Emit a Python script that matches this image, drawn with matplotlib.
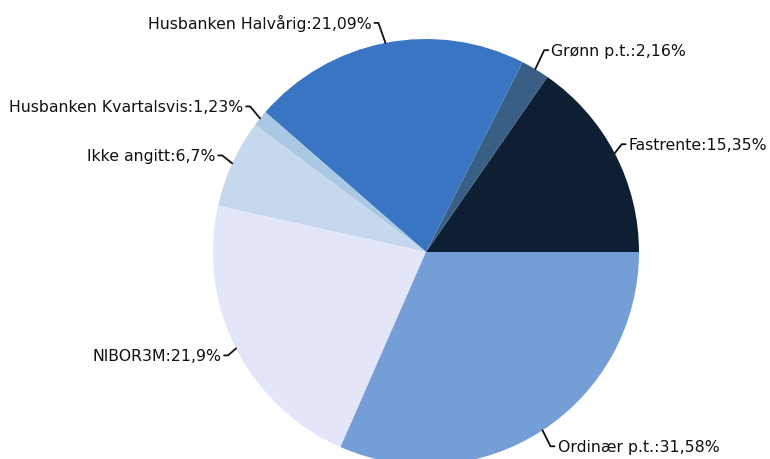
import matplotlib
matplotlib.use("Agg")
import matplotlib.pyplot as plt
import numpy as np

# slice data, counter-clockwise from 3 o'clock
labels = ["Fastrente", "Grønn p.t.", "Husbanken Halvårig", "Husbanken Kvartalsvis",
          "Ikke angitt", "NIBOR3M", "Ordinær p.t."]
shares = [15.35, 2.16, 21.09, 1.23, 6.7, 21.9, 31.58]
share_text = ["15,35", "2,16", "21,09", "1,23", "6,7", "21,9", "31,58"]
colors = ["#0f1f33", "#3a5f85", "#3a75c4", "#a9c8e4", "#c5d8ee", "#e2e6f8", "#759ed6"]

# leader elbow offset from the slice edge, in px (x right, y down)
elbow = [(7, -9), (9, -19), (-7, -20), (-10, -12), (-10, -8), (-8, 7), (8, 16)]

plt.rcParams["font.family"] = ["DejaVu Sans"]

W, H = 770, 459
fig = plt.figure(figsize=(W / 100, H / 100), dpi=100)
ax = fig.add_axes([0, 0, 1, 1])

cx, cy, R = 426, H - 252, 213
wedges, _ = ax.pie(shares, colors=colors, startangle=0, counterclock=True,
                   center=(cx, cy), radius=R, frame=True,
                   wedgeprops=dict(linewidth=0))
ax.set_xlim(0, W)
ax.set_ylim(0, H)
ax.set_aspect("equal")
ax.axis("off")

# leader lines + labels
for w, lab, txt, (ex, ey) in zip(wedges, labels, share_text, elbow):
    mid = np.deg2rad((w.theta1 + w.theta2) / 2)
    x0, y0 = cx + R * np.cos(mid), cy + R * np.sin(mid)
    x1, y1 = x0 + ex, y0 - ey
    side = 1 if ex >= 0 else -1
    x2 = x1 + 4 * side
    ax.plot([x0, x1, x2], [y0, y1, y1], color="#111111", lw=1.3,
            solid_capstyle="round", solid_joinstyle="round", clip_on=False)
    ax.text(x2 + 3 * side, y1 - 1, f"{lab}:{txt}%", fontsize=11.3,
            ha="left" if side > 0 else "right", va="center", color="#111111")

fig.savefig("out.png", dpi=100)
